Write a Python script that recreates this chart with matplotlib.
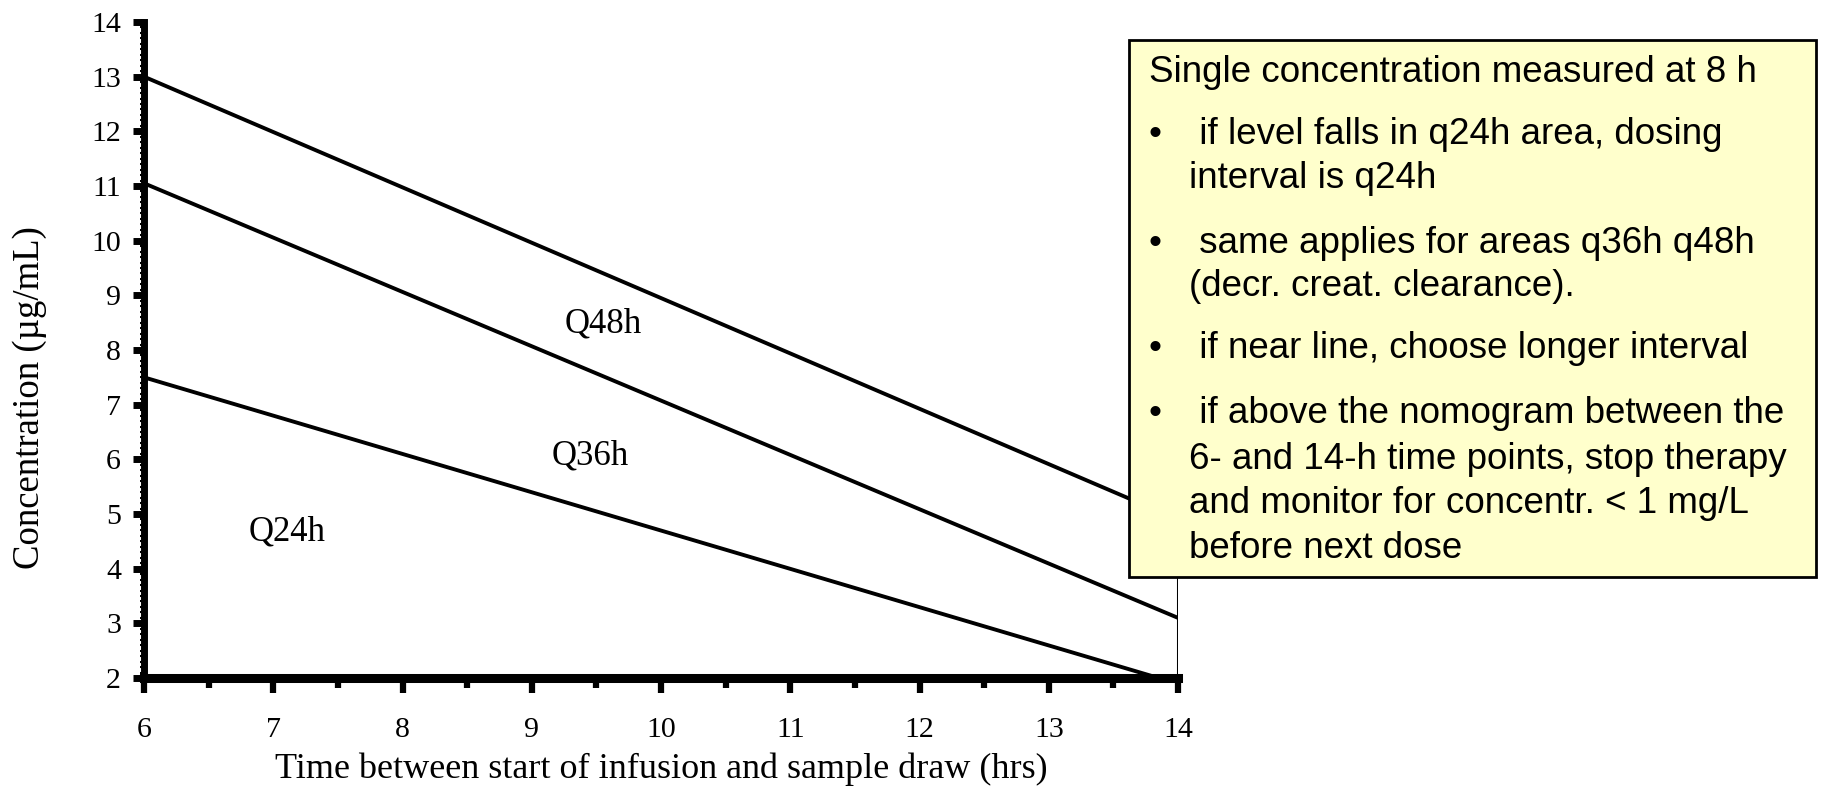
import matplotlib
matplotlib.use("Agg")
import matplotlib.pyplot as plt
from matplotlib.patches import Rectangle
from matplotlib.ticker import MultipleLocator

# nomogram boundary lines (hours, concentration in ug/mL)
upper_hours = [6, 14]
q48_upper = [13.0, 4.9]
mid_hours = [6, 14]
q36_q48 = [11.05, 3.1]
low_hours = [6, 13.85]
q24_q36 = [7.5, 2.0]

region_names = ["Q48h", "Q36h", "Q24h"]
region_x = [9.55, 9.45, 7.11]
region_y = [8.48, 6.06, 4.67]

x_ticks = [6, 7, 8, 9, 10, 11, 12, 13, 14]
y_ticks = [2, 3, 4, 5, 6, 7, 8, 9, 10, 11, 12, 13, 14]

box_title = "Single concentration measured at 8 h"
box_bullets = [
    ["if level falls in q24h area, dosing", "interval is q24h"],
    ["same applies for areas q36h q48h", "(decr. creat. clearance)."],
    ["if near line, choose longer interval"],
    ["if above the nomogram between the", "6- and 14-h time points, stop therapy",
     "and monitor for concentr. < 1 mg/L", "before next dose"],
]

W, H = 1822, 791
serif = ["Liberation Serif", "DejaVu Serif"]
sans = ["Liberation Sans", "DejaVu Sans"]


def fx(px):
    return px / W


def fy(py):
    return 1 - py / H


fig = plt.figure(figsize=(W / 100, H / 100), dpi=100)
ax = fig.add_axes([fx(144), fy(678), fx(1178) - fx(144), fy(22) - fy(678)])

ax.plot(upper_hours, q48_upper, color="black", lw=2.8)
ax.plot(mid_hours, q36_q48, color="black", lw=2.8)
ax.plot(low_hours, q24_q36, color="black", lw=2.8)
# closing vertical line at 14 h
ax.plot([14, 14], [2, q48_upper[1]], color="black", lw=2.2)

for name, x, y in zip(region_names, region_x, region_y):
    ax.text(x, y, name, fontsize=25, family=serif, ha="center", va="center")

ax.set_xlim(6, 14)
ax.set_ylim(2, 14)
ax.set_xticks(x_ticks)
ax.set_yticks(y_ticks)
ax.xaxis.set_minor_locator(MultipleLocator(0.5))
ax.yaxis.set_minor_locator(MultipleLocator(0.1))
for s in ["top", "right"]:
    ax.spines[s].set_visible(False)
ax.spines["left"].set_linewidth(5)
ax.spines["bottom"].set_linewidth(6.5)
ax.tick_params(axis="x", which="major", direction="out", width=4.5, length=11,
               labelsize=21.5, pad=17)
ax.tick_params(axis="x", which="minor", direction="out", width=4.5, length=7)
ax.tick_params(axis="y", which="major", direction="out", width=5, length=8,
               labelsize=21.5, pad=8.5)
ax.tick_params(axis="y", which="minor", direction="out", width=1.5, length=3)
for lab in ax.get_xticklabels() + ax.get_yticklabels():
    lab.set_family(serif)

ax.set_xlabel("Time between start of infusion and sample draw (hrs)", fontsize=26,
              family=serif, va="baseline")
ax.xaxis.set_label_coords(0.5, -100 / 656)
ax.set_ylabel("Concentration (\u00b5g/mL)", fontsize=26.5, family=serif, va="center")
ax.yaxis.set_label_coords(-114 / 1034, 280 / 656)

# yellow note box
fig.add_artist(Rectangle((fx(1129), fy(577)), fx(1816) - fx(1129), fy(40) - fy(577),
                         transform=fig.transFigure, facecolor="#ffffcc",
                         edgecolor="black", lw=2, zorder=5))

fs = 26.5
fig.text(fx(1149), fy(82), box_title, fontsize=fs, family=sans, va="baseline", zorder=6)
baselines = [[144, 188], [253, 296], [358], [423, 469, 513, 558]]
for lines, ys in zip(box_bullets, baselines):
    fig.text(fx(1155), fy(ys[0]), "\u2022", fontsize=fs, family=sans, ha="center",
             va="baseline", zorder=6)
    for i, (txt, y) in enumerate(zip(lines, ys)):
        label = " " + txt if i == 0 else txt
        fig.text(fx(1189), fy(y), label, fontsize=fs, family=sans, va="baseline", zorder=6)

fig.savefig("out.png", dpi=100)
